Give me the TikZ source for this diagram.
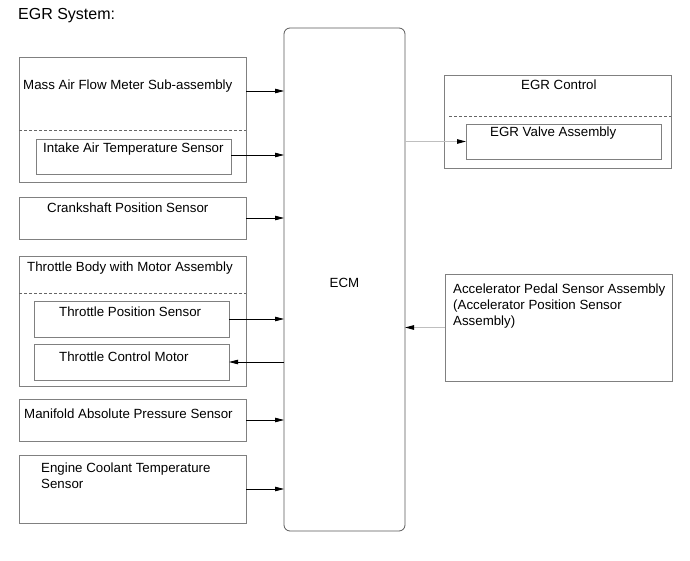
\documentclass[tikz,border=0pt]{standalone}
\usepackage{fontspec}
\setmainfont{Liberation Sans}
\usetikzlibrary{arrows.meta,calc}
\begin{document}
\begin{tikzpicture}[x=1pt,y=-1pt,
  box/.style={draw=black!50,line width=0.8pt,anchor=north west,inner sep=0pt,outer sep=0pt},
  lbl/.style={font=\fontsize{13.3}{15}\selectfont,inner sep=0pt,anchor=base west},
  arr/.style={line width=0.8pt,-{Triangle[length=9pt,width=4.5pt]}},
  grayarr/.style={line width=1.2pt,draw=black!25,-{Triangle[length=9pt,width=4.5pt,color=black]}},
  dashln/.style={draw=black!60,line width=0.6pt,dash pattern=on 3pt off 2pt}]
\useasboundingbox (0,0) rectangle (690,561);
% title
\node[font=\fontsize{16}{18}\selectfont,inner sep=0pt,anchor=base west] (title) at (18,20) {EGR System:};
% boxes
\node[box,minimum width=227pt,minimum height=125pt] (maf) at (19,57) {};
\node[box,minimum width=195pt,minimum height=35pt] (iat) at (36,139) {};
\node[box,minimum width=227pt,minimum height=42pt] (crank) at (19,197) {};
\node[box,minimum width=227pt,minimum height=130pt] (tb) at (19,256) {};
\node[box,minimum width=195pt,minimum height=36pt] (tps) at (34,301) {};
\node[box,minimum width=195pt,minimum height=36pt] (tcm) at (34,344) {};
\node[box,minimum width=227pt,minimum height=42pt] (map) at (19,399) {};
\node[box,minimum width=227pt,minimum height=68pt] (ect) at (19,455) {};
\node[box,draw=black!65,rounded corners=6pt,minimum width=121pt,minimum height=503pt] (ecm) at (284,28) {};
\node[box,minimum width=227pt,minimum height=93pt] (egr) at (444,75) {};
\node[box,minimum width=195pt,minimum height=35pt] (egrv) at (466,124) {};
\node[box,minimum width=227pt,minimum height=107pt] (acc) at (445,274) {};
% dashed separators
\draw[dashln] ([yshift=-73pt]maf.north west) -- ([yshift=-73pt]maf.north east);
\draw[dashln] ([yshift=-37pt]tb.north west) -- ([yshift=-37pt]tb.north east);
\draw[dashln] ([yshift=-41pt,xshift=5pt]egr.north west) -- ([yshift=-41pt]egr.north east);
% labels
\node[lbl] (tmaf) at (23,90) {Mass Air Flow Meter Sub-assembly};
\node[lbl] (tiat) at (43,153) {Intake Air Temperature Sensor};
\node[lbl] (tcrank) at (47,213) {Crankshaft Position Sensor};
\node[lbl] (ttb) at (27,271) {Throttle Body with Motor Assembly};
\node[lbl] (ttps) at (59,316) {Throttle Position Sensor};
\node[lbl] (ttcm) at (59,361) {Throttle Control Motor};
\node[lbl] (tmap) at (24,418) {Manifold Absolute Pressure Sensor};
\node[lbl] (tect1) at (41,472) {Engine Coolant Temperature};
\node[lbl] (tect2) at (41,488) {Sensor};
\node[lbl,anchor=base] (tecm) at (344.5,287) {ECM};
\node[lbl] (tegr) at (521,90) {EGR Control};
\node[lbl] (tegrv) at (490,137) {EGR Valve Assembly};
\node[lbl] (tacc1) at (453,293) {Accelerator Pedal Sensor Assembly};
\node[lbl] (tacc2) at (453,309) {(Accelerator Position Sensor};
\node[lbl] (tacc3) at (453,325) {Assembly)};
% connectors
\coordinate (a1) at ([yshift=-34pt]maf.north east);
\draw[arr] (a1) -- (a1 -| ecm.west);
\coordinate (a2) at ([yshift=-16pt]iat.north east);
\draw[arr] (a2) -- (a2 -| ecm.west);
\draw[arr] (crank.east) -- (crank.east -| ecm.west);
\draw[arr] (tps.east) -- (tps.east -| ecm.west);
\draw[arr] (tcm.east -| ecm.west) -- (tcm.east);
\draw[arr] (map.east) -- (map.east -| ecm.west);
\draw[arr] (ect.east) -- (ect.east -| ecm.west);
\draw[grayarr] (egrv.west -| ecm.east) -- (egrv.west);
\draw[grayarr] (acc.west) -- (acc.west -| ecm.east);
\end{tikzpicture}
\end{document}
